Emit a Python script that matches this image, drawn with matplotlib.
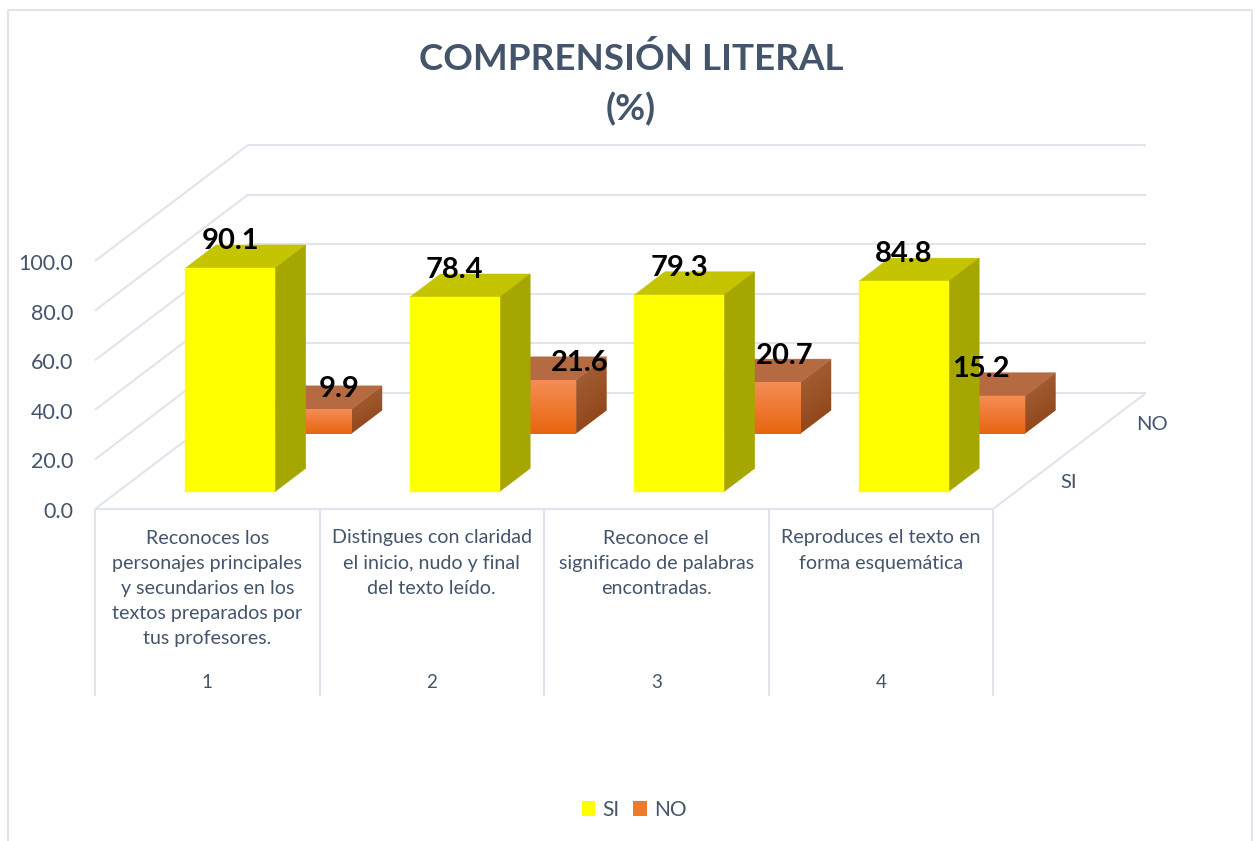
import numpy as np
import matplotlib
matplotlib.use("Agg")
import matplotlib.pyplot as plt
from matplotlib.patches import Polygon, Patch
from matplotlib.colors import LinearSegmentedColormap

# ---------- data ----------
TITLE = "COMPRENSIÓN LITERAL\n(%)"
CATEGORY_NUMBERS = ["1", "2", "3", "4"]
CATEGORY_TEXTS = [
    "Reconoces los\npersonajes principales\ny secundarios en los\ntextos preparados por\ntus profesores.",
    "Distingues con claridad\nel inicio, nudo y final\ndel texto leído.",
    "Reconoce el\nsignificado de palabras\nencontradas.",
    "Reproduces el texto en\nforma esquemática",
]
SERIES_NAMES = ["SI", "NO"]
SI_VALUES = [90.1, 78.4, 79.3, 84.8]
NO_VALUES = [9.9, 21.6, 20.7, 15.2]
Y_TICKS = [0, 20, 40, 60, 80, 100]

# ---------- layout ----------
W, H = 1256, 841
X0, Y0 = 95.0, 509.0      # pixel position of the front-left floor corner
CAT_PX = 224.5            # pixels per category
VAL_PX = 2.48             # pixels per value unit
DEPTH_X, DEPTH_Y = 153.0, 116.0   # pixel shift of the whole floor depth
BAR_W = 0.4
BAR_DEPTH = 0.2
SERIES_DEPTH = [0.15, 0.65]
NO_LABEL_NUDGE = [(32, -20), (49, -17), (29, -26), (1, -27)]
SI_LABEL_RISE = 27

GRID = "#E0E4EC"
TEXT = "#44546A"
FONT = "Lato"

plt.rcParams["font.family"] = [FONT, "DejaVu Sans"]
fig = plt.figure(figsize=(W / 100, H / 100), dpi=100, facecolor="white")
ax = fig.add_axes([0, 0, 1, 1])
ax.axis("off")
XLIM = (-X0 / CAT_PX, (W - X0) / CAT_PX)
YLIM = ((Y0 - H) / VAL_PX, Y0 / VAL_PX)


def proj(cat, val, depth=0.0):
    """Category, value and depth to the axes' own data coordinates."""
    return (cat + depth * DEPTH_X / CAT_PX, val + depth * DEPTH_Y / VAL_PX)


def dx(px):
    return px / CAT_PX


def dy(px):
    return px / VAL_PX


def face(points, color, z):
    ax.add_patch(Polygon(points, closed=True, facecolor=color, edgecolor=color,
                         linewidth=0.3, zorder=z))


def gradient_face(points, top, bottom, z, shear=False):
    pts = np.array(points)
    cmap = LinearSegmentedColormap.from_list("g", [top, bottom])
    clip = Polygon(points, closed=True, facecolor="none", edgecolor="none",
                   transform=ax.transData, zorder=z)
    ax.add_patch(clip)
    grad = np.linspace(0, 1, 128).reshape(-1, 1)
    if shear:
        grad = np.linspace(0, 1, 128)[:, None] * 0.75 + np.linspace(0, 0.25, 64)[None, :]
    im = ax.imshow(grad, cmap=cmap, vmin=0, vmax=1, aspect="auto", origin="upper",
                   extent=(pts[:, 0].min(), pts[:, 0].max(), pts[:, 1].min(), pts[:, 1].max()),
                   zorder=z, interpolation="bilinear")
    im.set_clip_path(clip)


def line(a, b, lw=1.5, z=1):
    ax.plot([a[0], b[0]], [a[1], b[1]], color=GRID, lw=lw, zorder=z, solid_capstyle="butt")


# ---------- walls and floor ----------
n = len(CATEGORY_NUMBERS)
for t in Y_TICKS:
    line(proj(0, t, 0), proj(0, t, 1))
    line(proj(0, t, 1), proj(n, t, 1))
    ax.text(dx(-22), t - dy(3), f"{t:.1f}", ha="right", va="center",
            color=TEXT, fontsize=15.5)
line(proj(n, 0, 0), proj(n, 0, 1))
line(proj(0, 0, 0), proj(n, 0, 0))
for i in range(n + 1):
    line((i, 0), (i, dy(-187)))

# ---------- bars (rear series first) ----------
left = (1 - BAR_W) / 2


def bar(i, v, d0):
    c0, c1 = i + left, i + left + BAR_W
    d1 = d0 + BAR_DEPTH
    f = [proj(c0, 0, d0), proj(c1, 0, d0), proj(c1, v, d0), proj(c0, v, d0)]
    t = [proj(c0, v, d0), proj(c1, v, d0), proj(c1, v, d1), proj(c0, v, d1)]
    s = [proj(c1, 0, d0), proj(c1, 0, d1), proj(c1, v, d1), proj(c1, v, d0)]
    return f, t, s


for i, v in enumerate(NO_VALUES):
    z = 2
    f, t, s = bar(i, v, SERIES_DEPTH[1])
    face(t, "#B66A41", z)
    gradient_face(s, "#A9643C", "#8A3F10", z, shear=True)
    gradient_face(f, "#F58D55", "#E8650F", z + 0.1)

for i, v in enumerate(SI_VALUES):
    z = 3
    f, t, s = bar(i, v, SERIES_DEPTH[0])
    face(t, "#C4C400", z)
    face(s, "#A6A600", z)
    face(f, "#FFFF00", z + 0.1)

# ---------- data labels ----------
for i, v in enumerate(SI_VALUES):
    x, y = proj(i + 0.5, v, SERIES_DEPTH[0])
    ax.text(x, y + dy(SI_LABEL_RISE), f"{v:.1f}", ha="center", va="center",
            fontsize=21, fontweight="bold", color="black", zorder=6)
for i, v in enumerate(NO_VALUES):
    x, y = proj(i + 0.5, v, SERIES_DEPTH[1])
    nx, ny = NO_LABEL_NUDGE[i]
    ax.text(x + dx(nx), y - dy(ny), f"{v:.1f}", ha="center", va="center",
            fontsize=21, fontweight="bold", color="black", zorder=6)

# ---------- category labels ----------
for i in range(n):
    ax.text(i + 0.5, dy(-20.5), CATEGORY_TEXTS[i], ha="center", va="top", color=TEXT,
            fontsize=14.1, linespacing=1.58, multialignment="center")
    ax.text(i + 0.5, dy(-173), CATEGORY_NUMBERS[i], ha="center", va="center", color=TEXT,
            fontsize=13.5)

# ---------- depth axis labels ----------
sx, sy = proj(n, 0, 0.25)
ax.text(sx + dx(37), sy + dy(-3), SERIES_NAMES[0], ha="center", va="center", color=TEXT, fontsize=14.5)
nx_, ny_ = proj(n, 0, 0.75)
ax.text(nx_ + dx(44), ny_ + dy(-2), SERIES_NAMES[1], ha="center", va="center", color=TEXT, fontsize=14.5)

# ---------- title ----------
ax.text(dx(631 - X0), dy(Y0 - 84), TITLE, ha="center", va="center", color=TEXT,
        fontsize=26.5, fontweight="bold", linespacing=1.56)

# ---------- legend ----------
handles = [Patch(facecolor="#FFFF00", edgecolor="none"), Patch(facecolor="#F07A2A", edgecolor="none")]
leg = ax.legend(handles, SERIES_NAMES, ncol=2, frameon=False, loc="center",
                bbox_to_anchor=(634 / W, 1 - 810 / H), bbox_transform=fig.transFigure,
                fontsize=15, labelcolor=TEXT, handlelength=0.65, handleheight=0.7,
                handletextpad=0.35, columnspacing=0.65, borderpad=0)

# ---------- chart frame (open at the image bottom) ----------
ax.plot([dx(7.5 - X0), dx(7.5 - X0), dx(1252 - X0), dx(1252 - X0)],
        [dy(Y0 - 841), dy(Y0 - 9.5), dy(Y0 - 9.5), dy(Y0 - 841)],
        color=GRID, lw=1.5, zorder=1, clip_on=False)

ax.set_xlim(*XLIM)
ax.set_ylim(*YLIM)
fig.savefig("out.png", dpi=100, facecolor="white")
